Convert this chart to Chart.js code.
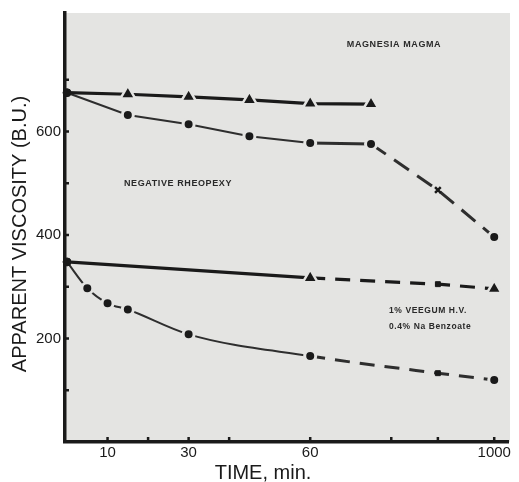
<!DOCTYPE html>
<html>
<head>
<meta charset="utf-8">
<script src="https://cdn.jsdelivr.net/npm/chart.js@4.4.1/dist/chart.umd.min.js"></script>
<style>
  html, body { margin: 0; padding: 0; background: #fff; }
  #caixa { width: 519px; height: 482px; position: relative; }
</style>
</head>
<body>
<div id="caixa"><canvas id="grafico"></canvas></div>
<script>
// eixo do tempo quebrado: linear ate ~90 min, quebra, depois 1000 min
var xQuebra = 91.5;
var x1000 = 105.4;

// Magnesia Magma
var magTriTempo = [0, 15, 30, 45, 60, 75];
var magTriVisc = [675, 672, 667, 661, 654, 653];
var magCircTempo = [0, 15, 30, 45, 60, 75, xQuebra, x1000];
var magCircVisc = [675, 632, 614, 591, 578, 576, 487, 396];

// 1% Veegum H.V. / 0.4% Na Benzoate
var veeTriTempo = [0, 60, xQuebra, x1000];
var veeTriVisc = [348, 317, 305, 296];
var veeCircTempo = [0, 5, 10, 15, 30, 60, xQuebra, x1000];
var veeCircVisc = [348, 297, 268, 256, 208, 166, 133, 120];

var xTicks = [10, 20, 30, 40, 60, 80, xQuebra, x1000];
var xTickLabels = ["10", "", "30", "", "60", "", "", "1000"];
var yTicks = [100, 200, 300, 400, 500, 600, 700];
var yTickLabels = ["", "200", "", "400", "", "600", ""];

var fundo = "#e4e4e2";
var tinta = "#1a1a1a";

function pontos(xs, ys) {
    return xs.map(function (x, i) { return { x: x, y: ys[i] }; });
}

var pluginPapel = {
    id: "papel",
    beforeDraw: function (chart) {
        var a = chart.chartArea, ctx = chart.ctx;
        ctx.save();
        ctx.fillStyle = fundo;
        ctx.fillRect(a.left, a.top, a.right - a.left + 2, a.bottom - a.top);
        ctx.restore();
    },
    afterDraw: function (chart) {
        var a = chart.chartArea, ctx = chart.ctx;
        var sx = chart.scales.x, sy = chart.scales.y;
        ctx.save();
        // marcas dos eixos para dentro
        ctx.strokeStyle = tinta;
        ctx.lineWidth = 2.5;
        ctx.beginPath();
        yTicks.forEach(function (v) {
            var y = sy.getPixelForValue(v);
            ctx.moveTo(a.left, y);
            ctx.lineTo(a.left + 4, y);
        });
        xTicks.forEach(function (v) {
            var x = sx.getPixelForValue(v);
            ctx.moveTo(x, a.bottom);
            ctx.lineTo(x, a.bottom - 5);
        });
        ctx.stroke();

        // titulos dos eixos
        ctx.fillStyle = tinta;
        ctx.font = '20px "Liberation Sans", Arial, sans-serif';
        ctx.textAlign = "center";
        ctx.textBaseline = "middle";
        ctx.fillText("TIME, min.", 263, 473);
        ctx.save();
        ctx.translate(20, 234);
        ctx.rotate(-Math.PI / 2);
        ctx.fillText("APPARENT VISCOSITY (B.U.)", 0, 0);
        ctx.restore();

        // anotacoes
        ctx.fillStyle = "#2a2a2a";
        ctx.font = 'bold 9px "Liberation Sans", Arial, sans-serif';
        ctx.letterSpacing = "0.6px";
        ctx.textAlign = "center";
        ctx.fillText("MAGNESIA MAGMA", 394, 45);
        ctx.fillText("NEGATIVE RHEOPEXY", 178, 184);
        ctx.font = 'bold 8.5px "Liberation Sans", Arial, sans-serif';
        ctx.textAlign = "left";
        ctx.fillText("1% VEEGUM H.V.", 389, 311);
        ctx.fillText("0.4% Na Benzoate", 389, 327);
        ctx.restore();
    }
};

function carregarGrafico() {
    var ctx = grafico.getContext("2d");

    new Chart(ctx, {
        type: "line",
        data: {
            datasets: [
                {
                    label: "Magnesia - triangulos",
                    data: pontos(magTriTempo, magTriVisc),
                    borderColor: tinta,
                    borderWidth: 3.2,
                    pointStyle: "triangle",
                    pointRadius: [0, 8.5, 8.5, 8.5, 8.5, 8.5],
                    pointBackgroundColor: tinta,
                    pointBorderColor: fundo,
                    pointBorderWidth: 2.5,
                    clip: false
                },
                {
                    label: "Magnesia - circulos",
                    data: pontos(magCircTempo, magCircVisc),
                    borderColor: "#2e2e2e",
                    borderWidth: 2,
                    segment: {
                        borderWidth: function (c) { return c.p0DataIndex >= 4 ? 3 : 2; },
                        borderDash: function (c) { return c.p0DataIndex >= 5 ? [18, 10] : undefined; }
                    },
                    pointStyle: ["circle", "circle", "circle", "circle", "circle", "circle", "crossRot", "circle"],
                    pointRadius: [4, 5.5, 5.5, 5.5, 5.5, 5.5, 4, 5.5],
                    pointBackgroundColor: tinta,
                    pointBorderColor: [tinta, fundo, fundo, fundo, fundo, fundo, tinta, fundo],
                    pointBorderWidth: [1, 3, 3, 3, 3, 3, 2.5, 3],
                    clip: false
                },
                {
                    label: "Veegum - triangulos",
                    data: pontos(veeTriTempo, veeTriVisc),
                    borderColor: tinta,
                    borderWidth: 3.2,
                    segment: {
                        borderDash: function (c) { return c.p0DataIndex >= 1 ? [15, 10] : undefined; }
                    },
                    pointStyle: ["circle", "triangle", "rect", "triangle"],
                    pointRadius: [0, 8.5, 3.5, 8.5],
                    pointBackgroundColor: tinta,
                    pointBorderColor: [tinta, fundo, tinta, fundo],
                    pointBorderWidth: [1, 2.5, 1, 2.5],
                    clip: false
                },
                {
                    label: "Veegum - circulos",
                    data: pontos(veeCircTempo, veeCircVisc),
                    borderColor: "#2e2e2e",
                    borderWidth: 2,
                    cubicInterpolationMode: "monotone",
                    segment: {
                        borderWidth: function (c) { return c.p0DataIndex >= 5 ? 3 : 2; },
                        borderDash: function (c) { return c.p0DataIndex >= 5 ? [15, 10] : undefined; }
                    },
                    pointStyle: ["circle", "circle", "circle", "circle", "circle", "circle", "rect", "circle"],
                    pointRadius: [4, 5.5, 5.5, 5.5, 5.5, 5.5, 3.5, 5.5],
                    pointBackgroundColor: tinta,
                    pointBorderColor: [tinta, fundo, fundo, fundo, fundo, fundo, tinta, fundo],
                    pointBorderWidth: [1, 3, 3, 3, 3, 3, 1, 3],
                    clip: false
                }
            ]
        },
        options: {
            responsive: true,
            maintainAspectRatio: false,
            animation: false,
            layout: { padding: { top: 13, right: 6, left: 0, bottom: 0 } },
            elements: { line: { borderCapStyle: "butt", tension: 0 } },
            scales: {
                x: {
                    type: "linear",
                    min: -0.5,
                    max: 108.8,
                    afterFit: function (s) { s.height = 40; },
                    afterBuildTicks: function (s) {
                        s.ticks = xTicks.map(function (v) { return { value: v }; });
                    },
                    ticks: {
                        autoSkip: false,
                        maxRotation: 0,
                        padding: 2,
                        color: tinta,
                        font: { family: '"Liberation Sans", Arial, sans-serif', size: 15 },
                        callback: function (v, i) { return xTickLabels[i]; }
                    },
                    grid: { display: false, drawTicks: false },
                    border: { display: true, color: tinta, width: 3.5 }
                },
                y: {
                    min: 0,
                    max: 829,
                    afterFit: function (s) { s.width = 65; },
                    afterBuildTicks: function (s) {
                        s.ticks = yTicks.map(function (v) { return { value: v }; });
                    },
                    ticks: {
                        autoSkip: false,
                        padding: 4,
                        color: tinta,
                        font: { family: '"Liberation Sans", Arial, sans-serif', size: 15 },
                        callback: function (v, i) { return yTickLabels[i]; }
                    },
                    grid: { display: false, drawTicks: false },
                    border: { display: true, color: tinta, width: 3.5 }
                }
            },
            plugins: {
                legend: { display: false },
                tooltip: { enabled: false }
            }
        },
        plugins: [pluginPapel]
    });
}

carregarGrafico();
</script>
</body>
</html>
